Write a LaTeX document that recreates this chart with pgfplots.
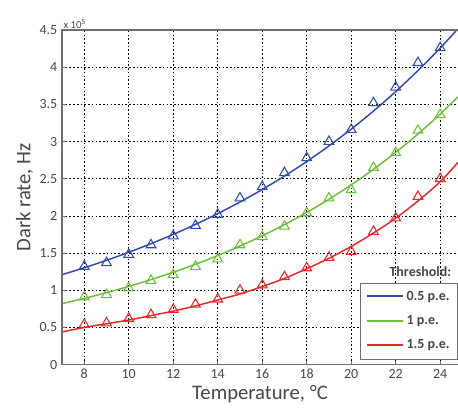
\documentclass[border=0pt]{standalone}
\usepackage{fontspec}
\setmainfont{Carlito}
\usepackage{pgfplots}
\pgfplotsset{compat=1.18}
\usetikzlibrary{calc}
\definecolor{cblue}{RGB}{50,75,170}
\definecolor{cgreen}{RGB}{110,190,60}
\definecolor{cred}{RGB}{230,40,40}
\definecolor{axgray}{RGB}{110,110,110}
\definecolor{txtgray}{RGB}{70,70,70}
\begin{document}
\begin{tikzpicture}
\begin{axis}[
  width=297pt, height=251pt, scale only axis,
  clip mode=individual,
  xmin=7, xmax=24.8, ymin=0, ymax=4.5,
  xtick={8,10,...,24}, ytick={0,0.5,...,4.5},
  /pgf/number format/assume math mode=true,
  scaled y ticks=false,
  grid=major,
  major grid style={black, line width=0.6pt, dash pattern=on 1.2pt off 1.6pt},
  axis line style={draw=none},
  tick align=inside, major tick length=3pt,
  tick style={axgray, line width=0.6pt},
  xtick pos=bottom, ytick pos=left,
  tick label style={font=\fontsize{10.5}{12}\selectfont, text=txtgray},
  label style={font=\fontsize{15.5}{18}\selectfont, text=txtgray},
  xlabel={Temperature, °C},
  ylabel={Dark rate, Hz},
  ylabel style={yshift=-2pt},
  xlabel style={yshift=2pt},
  legend style={at={(rel axis cs:1,0.245)}, anchor=north east, draw=axgray,
    font=\fontsize{10.5}{12}\selectfont\bfseries, text=txtgray,
    row sep=6pt, inner sep=4pt, fill=white},
  legend cell align=left,
  legend image code/.code={\draw[#1, line width=1.5pt] (0cm,0.05pt) -- (0.95cm,0.05pt);},
]
% fitted curves
\addplot[cblue, line width=1.1pt, smooth, forget plot] coordinates {
 (7,1.21) (8,1.303) (9,1.403) (10,1.511) (11,1.627) (12,1.752) (13,1.886) (14,2.031)
 (15,2.187) (16,2.355) (17,2.536) (18,2.731) (19,2.941) (20,3.167) (21,3.410)
 (22,3.672) (23,3.954) (24,4.257) (24.8,4.517)};
\addplot[cgreen, line width=1.1pt, smooth, forget plot] coordinates {
 (7,0.82) (8,0.891) (9,0.968) (10,1.052) (11,1.143) (12,1.243) (13,1.350) (14,1.467)
 (15,1.595) (16,1.733) (17,1.883) (18,2.046) (19,2.224) (20,2.417) (21,2.626)
 (22,2.854) (23,3.101) (24,3.370) (24.8,3.602)};
\addplot[cred, line width=1.1pt, smooth, forget plot] coordinates {
 (7,0.44) (8,0.50) (9,0.55) (10,0.60) (11,0.66) (12,0.72) (13,0.79) (14,0.87)
 (15,0.95) (16,1.05) (17,1.16) (18,1.29) (19,1.43) (20,1.59) (21,1.77)
 (22,1.97) (23,2.20) (24,2.46) (24.8,2.72)};
% measured points
\addplot[cblue, only marks, mark=triangle, mark size=4.2pt, mark options={line width=0.8pt}, forget plot] coordinates {
 (8,1.32) (9,1.37) (10,1.48) (11,1.61) (12,1.73) (13,1.87) (14,2.02) (15,2.24)
 (16,2.39) (17,2.58) (18,2.78) (19,3.00) (20,3.16) (21,3.52) (22,3.73) (23,4.06) (24,4.26)};
\addplot[cgreen, only marks, mark=triangle, mark size=4.2pt, mark options={line width=0.8pt}, forget plot] coordinates {
 (8,0.91) (9,0.94) (10,1.03) (11,1.13) (12,1.21) (13,1.32) (14,1.42) (15,1.61)
 (16,1.72) (17,1.86) (18,2.04) (19,2.24) (20,2.35) (21,2.65) (22,2.85) (23,3.15) (24,3.36)};
\addplot[cred, only marks, mark=triangle, mark size=4.2pt, mark options={line width=0.8pt}, forget plot] coordinates {
 (8,0.54) (9,0.56) (10,0.62) (11,0.67) (12,0.74) (13,0.81) (14,0.88) (15,1.00)
 (16,1.07) (17,1.18) (18,1.30) (19,1.44) (20,1.52) (21,1.79) (22,1.97) (23,2.26) (24,2.50)};
\addlegendimage{cblue}
\addlegendentry{0.5 p.e.}
\addlegendimage{cgreen}
\addlegendentry{1 p.e.}
\addlegendimage{cred}
\addlegendentry{1.5 p.e.}
\draw[axgray, line width=0.9pt] (rel axis cs:1,1) -- (rel axis cs:0,1) -- (rel axis cs:0,0) -- (rel axis cs:1,0);
\node[anchor=south, font=\fontsize{10.5}{12}\selectfont\bfseries, text=txtgray] at (rel axis cs:0.905,0.25) {Threshold:};
\node[anchor=south west, font=\fontsize{8}{10}\selectfont, text=txtgray, inner sep=1pt] at (rel axis cs:0,1) {x 10\textsuperscript{5}};
\coordinate (ll) at (rel axis cs:0,0);
\coordinate (ur) at (rel axis cs:1,1);
\end{axis}
\pgfresetboundingbox
\path ($(ll)+(-46.5pt,-35.25pt)$) rectangle ($(ur)+(0pt,22.5pt)$);
\end{tikzpicture}
\end{document}
